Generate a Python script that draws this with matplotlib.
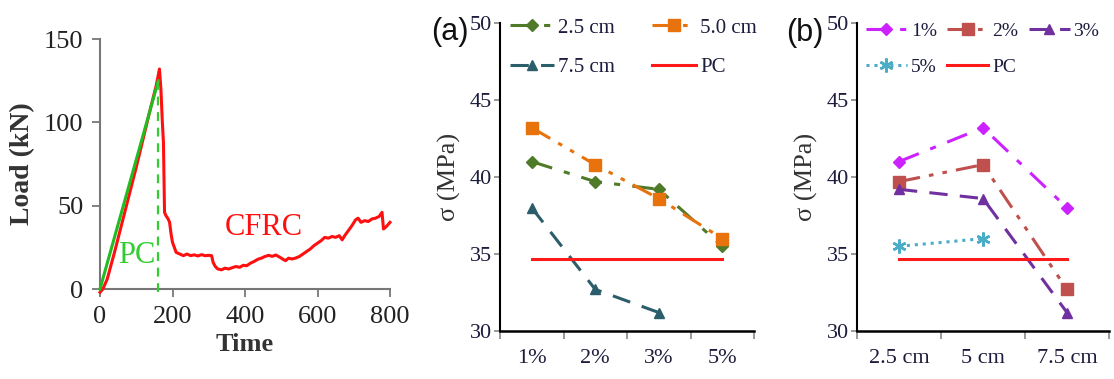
import numpy as np
import matplotlib
matplotlib.use("Agg")
import matplotlib.pyplot as plt
from matplotlib.ticker import FixedLocator, NullFormatter

# ---------------- data ----------------
# Load-time record (kN vs time)
pc_time = [0, 161]
pc_load = [0, 125]
pc_drop_time = [161, 161]
pc_drop_load = [125, -2]

cfrc_time = [0, 8, 20, 40, 60, 80, 100, 120, 140, 155, 164, 168, 172, 175, 177, 178,
             182, 188, 192, 196, 200, 205, 210, 220, 230, 240, 250, 260, 270, 280,
             290, 300, 308, 312, 318, 325, 335, 345, 355, 365, 375, 385, 395, 405,
             415, 425, 435, 445, 455, 465, 475, 485, 495, 505, 512, 520, 530, 540,
             550, 560, 570, 580, 590, 600, 610, 620, 630, 640, 650, 660, 668, 675,
             685, 695, 705, 712, 720, 730, 740, 750, 760, 770, 778, 782, 790, 800]
cfrc_load = [-2, 0, 6, 22, 39, 56, 73, 91, 109, 122, 132, 120, 100, 88, 60, 46,
             44, 42, 40, 33, 28, 25, 22, 21, 20, 21, 20, 20.5, 19.8, 20.6,
             20, 20.2, 20, 16, 13.5, 12, 11.5, 12.5, 12, 12.8, 13.5, 13, 14.2, 14,
             15.5, 16.5, 17.8, 18.5, 19.5, 20.2, 19.6, 20.4, 19.2, 17.8, 17, 18.5, 18, 18.6,
             19.5, 21, 22.5, 24, 26, 27.5, 29, 31, 30.5, 31.5, 31, 32, 29.5, 32,
             35, 38, 41.5, 42.5, 40, 41, 40.5, 42, 42.5, 43.5, 46, 36, 37.5, 40]

# Compressive strength (MPa) by fibre content and fibre length
fractions = ["1%", "2%", "3%", "5%"]
lengths_a = ["2.5 cm", "5.0 cm", "7.5 cm"]
lengths_b = ["2.5 cm", "5 cm", "7.5 cm"]
s_25 = [41.0, 39.7, 39.2, 35.5]
s_50 = [43.2, 40.8, 38.6, 36.0]
s_75 = [38.0, 32.7, 31.2, np.nan]
pc_strength = 34.7

# ---------------- style ----------------
SERIF = "Liberation Serif"
TXT = "#1c1c3c"
W, H = 1114, 379

fig = plt.figure(figsize=(W / 100, H / 100), dpi=100)


def box(l, t, r, b):
    return [l / W, 1 - b / H, (r - l) / W, (b - t) / H]


# ---------------- load-time panel ----------------
ax1 = fig.add_axes(box(100, 39, 390, 289))
ax1.plot(cfrc_time, cfrc_load, color="#ff1010", lw=2.2, clip_on=False, zorder=3)
ax1.plot(pc_time, pc_load, color="#22bb22", lw=2.2, clip_on=False, zorder=4)
ax1.plot(pc_drop_time, pc_drop_load, color="#33cc33", lw=1.6, ls=(0, (4, 3)),
         clip_on=False, zorder=4)
ax1.set_xlim(0, 800)
ax1.set_ylim(0, 150)
ax1.set_xticks([0, 200, 400, 600, 800])
ax1.set_yticks([0, 50, 100, 150])
for s in ("top", "right"):
    ax1.spines[s].set_visible(False)
for s in ("left", "bottom"):
    ax1.spines[s].set_color("#777777")
    ax1.spines[s].set_linewidth(1.5)
ax1.tick_params(direction="out", length=6, width=1.3, color="#777777",
                labelsize=19, pad=6)
for lab in ax1.get_xticklabels() + ax1.get_yticklabels():
    lab.set_fontfamily(SERIF)
    lab.set_color("#222222")
ax1.set_ylabel("Load (kN)", family=SERIF, fontsize=20, fontweight="bold",
               color="#333333", labelpad=6)
ax1.set_xlabel("Time", family=SERIF, fontsize=19, fontweight="bold",
               color="#333333", labelpad=4)
ax1.text(102, 20, "PC", family=SERIF, fontsize=22, color="#33cc33",
         ha="center", va="center")
ax1.text(453, 37, "CFRC", family=SERIF, fontsize=22, color="#ff1010",
         ha="center", va="center")


def style_cat_axes(ax, n, labels):
    ax.set_xlim(-0.5, n - 0.5)
    ax.set_ylim(30, 50)
    ax.set_yticks([30, 35, 40, 45, 50])
    ax.xaxis.set_major_locator(FixedLocator(list(range(n))))
    ax.set_xticklabels(labels)
    ax.xaxis.set_minor_locator(FixedLocator([i - 0.5 for i in range(n + 1)]))
    ax.xaxis.set_minor_formatter(NullFormatter())
    ax.tick_params(axis="x", which="major", length=0, pad=13, labelsize=16,
                   labelcolor=TXT)
    ax.tick_params(axis="x", which="minor", direction="out", length=6,
                   width=1.2, color="#888888")
    ax.tick_params(axis="y", direction="out", length=4, width=1.2,
                   color="#888888", labelsize=16, labelcolor=TXT, pad=2)
    for lab in ax.get_xticklabels() + ax.get_yticklabels():
        lab.set_fontfamily(SERIF)
    for s in ("top", "right"):
        ax.spines[s].set_visible(False)
    ax.spines["left"].set_linewidth(1.5)
    ax.spines["bottom"].set_linewidth(1.8)
    ax.set_ylabel("σ (MPa)", family=SERIF, fontsize=19, color="#333333",
                  labelpad=6)


def row_legend(ax, order, anchor, ncol, colsp, size):
    handles, labels = ax.get_legend_handles_labels()
    lookup = dict(zip(labels, handles))
    ax.legend([lookup[k] for k in order], order, loc="upper left",
              bbox_to_anchor=anchor, bbox_transform=fig.transFigure,
              ncol=ncol, frameon=False, prop={"family": SERIF, "size": size},
              handlelength=2.1, handletextpad=0.2, columnspacing=colsp,
              labelspacing=0.95, borderaxespad=0, borderpad=0,
              labelcolor=TXT)


# ---------------- panel (a): strength vs fibre content ----------------
axa = fig.add_axes(box(500, 23, 754, 331))
xa = np.arange(len(fractions))
axa.plot(xa, s_25, color="#4f7a28", lw=2.2, ls=(0, (7, 4, 2, 4)), marker="D",
         ms=6.5, label="2.5 cm", clip_on=False)
axa.plot(xa, s_50, color="#e8720c", lw=2.2, ls=(0, (7, 3, 1.5, 3, 1.5, 3)),
         marker="s", ms=8.5, label="5.0 cm", clip_on=False)
axa.plot(xa, s_75, color="#2c5d6b", lw=2.2, ls=(0, (6, 4)), marker="^",
         ms=7.5, label="7.5 cm", clip_on=False)
axa.plot(xa, [pc_strength] * len(xa), color="#ff1a1a", lw=2.2, label="PC")
style_cat_axes(axa, len(fractions), fractions)
# column-major order so the legend reads row by row
row_legend(axa, ["2.5 cm", "7.5 cm", "5.0 cm", "PC"],
           (510 / W, 1 - 18 / H), 2, 1.8, 15)
fig.text(450 / W, 1 - 32 / H, "(a)", family="Liberation Sans", fontsize=22,
         ha="center", va="center", color="#111111")

# ---------------- panel (b): strength vs fibre length ----------------
axb = fig.add_axes(box(857, 23, 1109, 331))
xb = np.arange(len(lengths_b))
by_fraction = np.array([s_25, s_50, s_75]).T
axb.plot(xb, by_fraction[0], color="#cc22ff", lw=2.2, ls=(0, (7, 4, 2, 4)),
         marker="D", ms=6.5, label="1%", clip_on=False)
axb.plot(xb, by_fraction[1], color="#c0504d", lw=2.2,
         ls=(0, (7, 3, 1.5, 3, 1.5, 3)), marker="s", ms=8.5, label="2%",
         clip_on=False)
axb.plot(xb, by_fraction[2], color="#7030a0", lw=2.2, ls=(0, (6, 4)),
         marker="^", ms=7.5, label="3%", clip_on=False)
axb.plot(xb, by_fraction[3], color="#4bacc6", lw=2.2, ls=(0, (1, 1.6)),
         marker=(6, 2, 0), ms=10, mew=1.8, label="5%", clip_on=False)
axb.plot(xb, [pc_strength] * len(xb), color="#ff1a1a", lw=2.2, label="PC")
style_cat_axes(axb, len(lengths_b), lengths_b)
row_legend(axb, ["1%", "5%", "2%", "PC", "3%"],
           (866 / W, 1 - 22 / H), 3, 0.55, 14)
fig.text(805 / W, 1 - 33 / H, "(b)", family="Liberation Sans", fontsize=22,
         ha="center", va="center", color="#111111")

fig.savefig("out.png", dpi=100)
